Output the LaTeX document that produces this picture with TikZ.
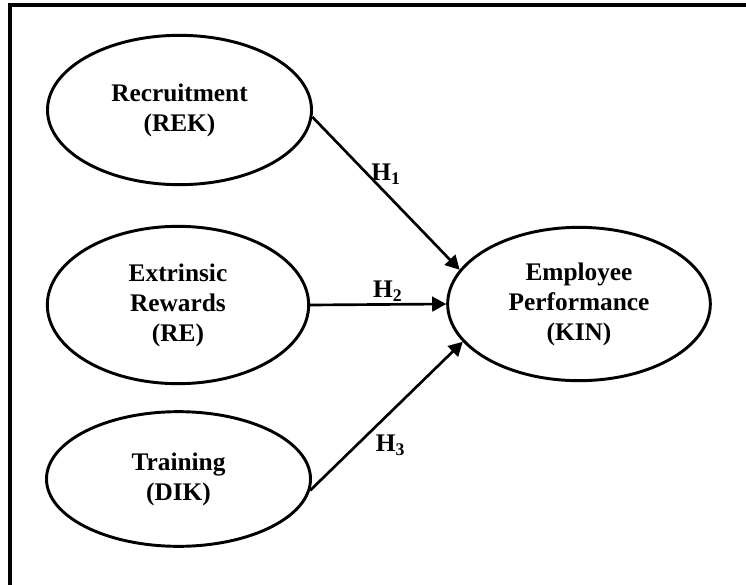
\documentclass[tikz,border=0pt]{standalone}
\usepackage{fontspec}
\setmainfont{Liberation Serif}
\usetikzlibrary{shapes.geometric,arrows.meta}

\begin{document}
\begin{tikzpicture}[x=0.75pt,y=-0.75pt,
	ovalnode/.style={ellipse, draw=black, line width=2.2pt, inner sep=0pt, align=center, font=\fontsize{19}{22.5}\selectfont\bfseries},
	hypnode/.style={font=\fontsize{19}{22.5}\selectfont\bfseries, inner sep=0pt}]
		\useasboundingbox (0,0) rectangle (746,585);
		\draw[line width=3pt] (9.5,585) -- (9.5,5.5) -- (746,5.5);
		
		\node[ovalnode, minimum width=198pt, minimum height=112pt]	(rek) at (179.5,110)	{Recruitment\\(REK)};
		\node[ovalnode, minimum width=196pt, minimum height=118pt]	(re) at (178,305)	{Extrinsic\\Rewards\\(RE)};
		\node[ovalnode, minimum width=198pt, minimum height=101pt]	(dik) at (178.5,479)	{Training\\(DIK)};
		\node[ovalnode, minimum width=197pt, minimum height=115pt]	(kin) at (579,304)	{Employee\\Performance\\(KIN)};
		
		\draw[-{Triangle[length=10.5pt,width=11pt]}, line width=2pt] (rek.-3) -- (kin.164) node [midway, above=6pt, hypnode] {H\textsubscript{1}};
		\draw[-{Triangle[length=10.5pt,width=11pt]}, line width=2pt] (re.east) -- (kin.west) node [pos=0.57, above=1pt, hypnode] {H\textsubscript{2}};
		\draw[-{Triangle[length=10.5pt,width=11pt]}, line width=2pt] (dik.-5) -- (kin.198) node [midway, below=13pt, xshift=3pt, hypnode] {H\textsubscript{3}};
		
		\end{tikzpicture}
\end{document}
